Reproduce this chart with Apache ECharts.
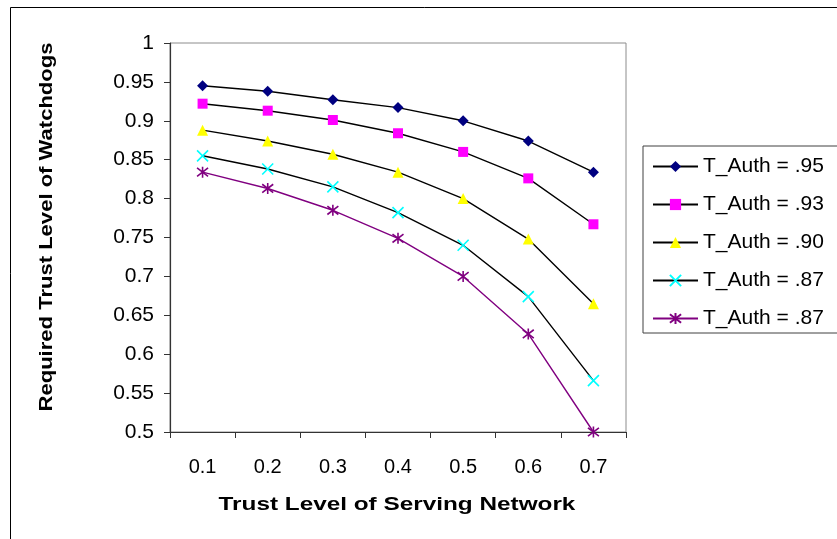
<!DOCTYPE html>
<html>
<head>
<meta charset="utf-8">
<script src="https://cdn.jsdelivr.net/npm/echarts@6/dist/echarts.min.js"></script>
<style>
  html, body { margin: 0; padding: 0; background: #fff; }
  #chart { width: 837px; height: 539px; }
</style>
</head>
<body>
<div id="chart"></div>
<script>
// Trust level of the serving network (x categories)
const trustLevels = ['0.1', '0.2', '0.3', '0.4', '0.5', '0.6', '0.7'];

// Series keys (two series share the same legend text, so keys must differ)
const seriesKeys = ['auth95', 'auth93', 'auth90', 'auth87a', 'auth87b'];
// Legend text for each series
const legendLabels = ['T_Auth = .95', 'T_Auth = .93', 'T_Auth = .90', 'T_Auth = .87', 'T_Auth = .87'];

// Required trust level of watchdogs per series
const auth95 = [0.945, 0.938, 0.927, 0.917, 0.900, 0.874, 0.834];
const auth93 = [0.922, 0.913, 0.901, 0.884, 0.860, 0.826, 0.767];
const auth90 = [0.888, 0.874, 0.857, 0.834, 0.800, 0.748, 0.665];
const auth87a = [0.855, 0.838, 0.815, 0.782, 0.740, 0.674, 0.566];
const auth87b = [0.834, 0.813, 0.785, 0.749, 0.700, 0.626, 0.500];

// Axis titles
const xTitle = 'Trust Level of Serving Network';
const yTitle = 'Required Trust Level of Watchdogs';

const FONT = '"Liberation Sans", Arial, sans-serif';

const xMark = 'path://M0,0L10,10M10,0L0,10';
const starMark = 'path://M0,0L10,10M10,0L0,10M5,-1.5L5,11.5';

function makeSeries(key, data, symbol, size, color, lineColor) {
  const stroked = symbol.indexOf('path://') === 0;
  return {
    name: key,
    type: 'line',
    data: data,
    symbol: symbol,
    symbolSize: size,
    showAllSymbol: true,
    lineStyle: { color: lineColor, width: 1.4 },
    itemStyle: {
      color: color,
      borderColor: color,
      borderWidth: stroked ? 1.6 : 0,
      opacity: 1
    },
    emphasis: { disabled: true },
    animation: false
  };
}

const chart = echarts.init(document.getElementById('chart'), null, { renderer: 'canvas' });

chart.setOption({
  backgroundColor: '#ffffff',
  animation: false,
  textStyle: { fontFamily: FONT },
  graphic: [
    {
      // outer chart frame
      type: 'rect',
      shape: { x: 10.5, y: 7.5, width: 900, height: 600 },
      style: { fill: 'none', stroke: '#000', lineWidth: 1 },
      silent: true,
      z: -10
    },
    {
      // x axis title (wide-set bold lettering)
      type: 'text',
      x: 397, y: 505,
      scaleX: 1.28,
      style: {
        text: xTitle, fontFamily: FONT, fontSize: 19, fontWeight: 'bold',
        fill: '#000', align: 'center', verticalAlign: 'middle'
      },
      silent: true
    },
    {
      // y axis title, rotated
      type: 'text',
      x: 47, y: 227,
      rotation: Math.PI / 2,
      scaleX: 1.16,
      style: {
        text: yTitle, fontFamily: FONT, fontSize: 19, fontWeight: 'bold',
        fill: '#000', align: 'center', verticalAlign: 'middle'
      },
      silent: true
    }
  ],
  grid: {
    left: 170, top: 43, right: 211, bottom: 107,
    show: true, borderColor: '#8c8c8c', borderWidth: 1,
    backgroundColor: 'transparent'
  },
  legend: {
    orient: 'vertical',
    left: 643, top: 146,
    data: seriesKeys.map(k => ({ name: k })),
    formatter: name => legendLabels[seriesKeys.indexOf(name)],
    itemWidth: 45, itemHeight: 14,
    itemGap: 17,
    padding: [10, 200, 4, 9],
    borderColor: '#404040', borderWidth: 1,
    textStyle: { fontFamily: FONT, fontSize: 21, color: '#000', lineHeight: 20 },
    selectedMode: false
  },
  xAxis: {
    type: 'category',
    data: trustLevels,
    boundaryGap: true,
    axisLine: { lineStyle: { color: '#333', width: 1.2 } },
    axisTick: { show: true, length: 6, lineStyle: { color: '#333' } },
    axisLabel: { fontFamily: FONT, fontSize: 20, color: '#000', margin: 25 },
    splitLine: { show: false }
  },
  yAxis: {
    type: 'value',
    min: 0.5, max: 1, interval: 0.05,
    axisLine: { show: true, lineStyle: { color: '#333', width: 1.2 } },
    axisTick: { show: true, length: 6, lineStyle: { color: '#333' } },
    axisLabel: {
      fontFamily: FONT, fontSize: 21, color: '#000', margin: 16,
      formatter: v => String(parseFloat(v.toFixed(2)))
    },
    splitLine: { show: false }
  },
  series: [
    makeSeries(seriesKeys[0], auth95, 'diamond', 11, '#000080', '#000'),
    makeSeries(seriesKeys[1], auth93, 'rect', 10, '#ff00ff', '#000'),
    makeSeries(seriesKeys[2], auth90, 'triangle', 11, '#ffff00', '#000'),
    makeSeries(seriesKeys[3], auth87a, xMark, 11, '#00ffff', '#000'),
    makeSeries(seriesKeys[4], auth87b, starMark, 11, '#800080', '#800080')
  ]
});
</script>
</body>
</html>
